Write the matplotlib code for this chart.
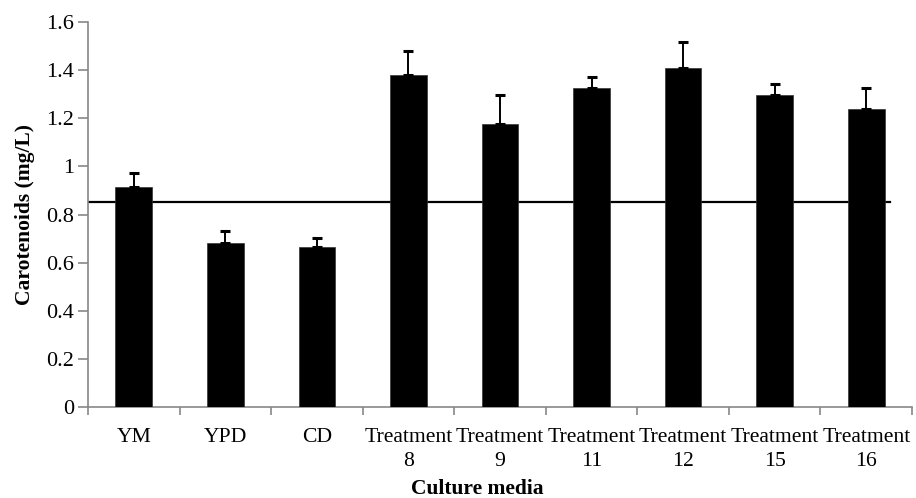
import numpy as np
import matplotlib.pyplot as plt

# carotenoid production per culture medium
media = ["YM", "YPD", "CD", "Treatment\n8", "Treatment\n9", "Treatment\n11",
         "Treatment\n12", "Treatment\n15", "Treatment\n16"]
carotenoids = [0.916, 0.683, 0.666, 1.380, 1.176, 1.327, 1.409, 1.298, 1.237]
err_up = [0.059, 0.051, 0.038, 0.100, 0.119, 0.046, 0.109, 0.044, 0.088]
reference_level = 0.853

plt.rcParams['font.family'] = ['Liberation Serif', 'DejaVu Serif']

fig = plt.figure(figsize=(9.16, 4.98), dpi=100)
ax = fig.add_axes([88 / 916, 1 - 407.3 / 498, 824 / 916, 385.3 / 498])

x = np.arange(len(media))
ax.bar(x, carotenoids, width=0.4, color='black', edgecolor='#333333', linewidth=0.5,
       zorder=3)
ax.errorbar(x, carotenoids, yerr=[np.zeros(len(x)), err_up], fmt='none',
            ecolor='black', elinewidth=1.4, capsize=3.8, capthick=2.2, zorder=4)

# reference line across the plot
ax.plot([-0.5, 8.26], [reference_level, reference_level], color='black', lw=1.6,
        zorder=2)

ax.set_xlim(-0.5, 8.5)
ax.set_ylim(0, 1.6)
ax.set_yticks(np.arange(0, 1.61, 0.2))
ax.set_yticklabels(['0', '0.2', '0.4', '0.6', '0.8', '1', '1.2', '1.4', '1.6'])
ax.set_xticks(x)
ax.set_xticklabels(media)
ax.set_xticks(np.arange(-0.5, 8.6, 1), minor=True)
ax.tick_params(axis='x', which='major', length=0, labelsize=15.6, pad=15)
ax.tick_params(axis='x', which='minor', length=6, color='#888888', width=1.2)
ax.tick_params(axis='y', length=7, color='#888888', width=1.2, labelsize=16, pad=3)
for lab in ax.get_xticklabels():
    lab.set_linespacing(1.32)

for s in ['top', 'right']:
    ax.spines[s].set_visible(False)
for s in ['left', 'bottom']:
    ax.spines[s].set_color('#888888')
    ax.spines[s].set_linewidth(1.2)

ax.set_ylabel('Carotenoids (mg/L)', fontsize=15.5, fontweight='bold')
ax.yaxis.label.set_va('center')
ax.yaxis.set_label_coords(-0.0765, 0.5)
ax.set_xlabel('Culture media', fontsize=15.5, fontweight='bold')
ax.xaxis.label.set_va('center')
ax.xaxis.set_label_coords(0.472, -0.212)

fig.savefig('out.png', dpi=100)
